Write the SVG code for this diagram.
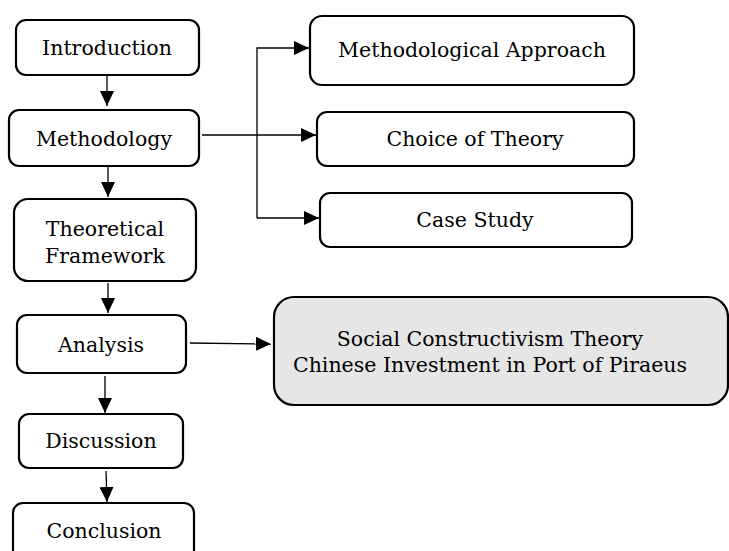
<svg xmlns="http://www.w3.org/2000/svg" width="729" height="551" viewBox="0 0 729 551">
<defs>
<style>
.box{fill:#fff;stroke:#000;stroke-width:2.2}
.gray{fill:#e6e6e6;stroke:#000;stroke-width:2.2}
text{font-family:"DejaVu Serif","Liberation Serif",serif;font-size:20.5px;fill:#000;text-anchor:middle}
.c{stroke:#000;stroke-width:1.3;fill:none}
</style>
<marker id="ah" markerWidth="15" markerHeight="14" refX="15" refY="7" orient="auto" markerUnits="userSpaceOnUse">
<path d="M0,0 L15,7 L0,14 Z" fill="#000"/>
</marker>
</defs>
<rect width="729" height="551" fill="#fff"/>
<g id="introduction"><rect class="box" x="16" y="20" width="183" height="55" rx="10"/><text x="107" y="55">Introduction</text></g>
<g id="methodology"><rect class="box" x="9" y="110" width="190" height="56" rx="10"/><text x="104" y="146">Methodology</text></g>
<g id="theoretical"><rect class="box" x="14" y="199" width="182" height="82" rx="14"/><text x="105" y="236">Theoretical</text><text x="105" y="263">Framework</text></g>
<g id="analysis"><rect class="box" x="17" y="315" width="169" height="58" rx="10"/><text x="101" y="352">Analysis</text></g>
<g id="discussion"><rect class="box" x="19" y="414" width="164" height="54" rx="10"/><text x="101" y="448">Discussion</text></g>
<g id="conclusion"><rect class="box" x="13" y="503" width="181" height="60" rx="10"/><text x="104" y="538">Conclusion</text></g>
<g id="approach"><rect class="box" x="310" y="16" width="324" height="69" rx="12"/><text x="472" y="57">Methodological Approach</text></g>
<g id="choice"><rect class="box" x="317" y="112" width="317" height="54" rx="10"/><text x="475" y="146">Choice of Theory</text></g>
<g id="case"><rect class="box" x="320" y="193" width="312" height="54" rx="10"/><text x="475" y="227">Case Study</text></g>
<g id="social"><rect class="gray" x="274" y="297" width="454" height="108" rx="20"/><text x="490" y="346">Social Constructivism Theory</text><text x="490" y="372">Chinese Investment in Port of Piraeus</text></g>
<g id="connectors">
<line class="c" x1="107" y1="76" x2="107" y2="106" marker-end="url(#ah)"/>
<line class="c" x1="108" y1="167" x2="108" y2="197" marker-end="url(#ah)"/>
<line class="c" x1="108" y1="283" x2="108" y2="313" marker-end="url(#ah)"/>
<line class="c" x1="105" y1="376" x2="105" y2="413" marker-end="url(#ah)"/>
<line class="c" x1="106" y1="471" x2="107" y2="502" marker-end="url(#ah)"/>
<line class="c" x1="202" y1="135" x2="316" y2="135" marker-end="url(#ah)"/>
<polyline class="c" points="257,218 257,48 309,48" marker-end="url(#ah)"/>
<line class="c" x1="257" y1="218" x2="319" y2="218" marker-end="url(#ah)"/>
<line class="c" x1="190" y1="343" x2="271" y2="344" marker-end="url(#ah)"/>
</g>
</svg>
